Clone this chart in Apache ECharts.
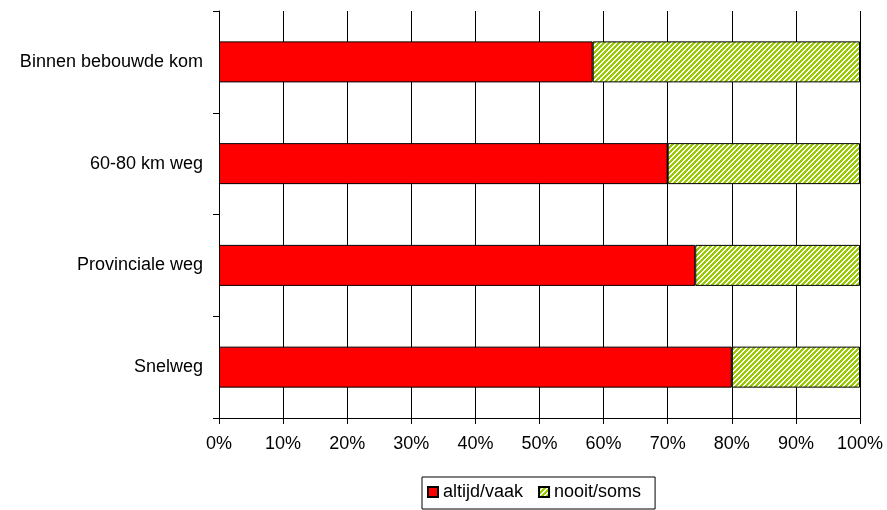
<!DOCTYPE html>
<html>
<head>
<meta charset="utf-8">
<script src="https://cdn.jsdelivr.net/npm/echarts@6/dist/echarts.min.js"></script>
<style>
html,body{margin:0;padding:0;background:#fff;}
#chart{width:887px;height:510px;}
</style>
</head>
<body>
<div id="chart"></div>
<script>
var categories = ['Binnen bebouwde kom', '60-80 km weg', 'Provinciale weg', 'Snelweg'];
var altijdVaak = [58.3, 70.0, 74.3, 80.0];
var nooitSoms = [41.7, 30.0, 25.7, 20.0];
var seriesNames = ['altijd/vaak', 'nooit/soms'];

function makeHatch() {
  var n = 5;
  var c = document.createElement('canvas');
  c.width = n; c.height = n;
  var ctx = c.getContext('2d');
  ctx.fillStyle = '#ffffff';
  ctx.fillRect(0, 0, n, n);
  ctx.fillStyle = '#99CC00';
  for (var x = 0; x < n; x++) {
    for (var y = 0; y < n; y++) {
      if ((x + y) % n < 3) ctx.fillRect(x, y, 1, 1);
    }
  }
  return c;
}

var font = 'Liberation Sans, Arial, sans-serif';
var chart = echarts.init(document.getElementById('chart'), null, {renderer: 'canvas'});
chart.setOption({
  animation: false,
  backgroundColor: '#ffffff',
  textStyle: {fontFamily: font},
  grid: {left: 219, right: 27, top: 11, bottom: 92, containLabel: false},
  legend: {
    left: 422, top: 477,
    data: seriesNames,
    icon: 'rect',
    itemWidth: 10, itemHeight: 10, itemGap: 15,
    borderColor: '#000', borderWidth: 1,
    padding: [6, 14, 8, 5],
    textStyle: {fontSize: 18, color: '#000', fontFamily: font}
  },
  xAxis: {
    type: 'value', min: 0, max: 100, interval: 10,
    axisLine: {show: true, lineStyle: {color: '#000', width: 1}},
    axisTick: {show: true, length: 6, lineStyle: {color: '#000'}},
    axisLabel: {formatter: '{value}%', fontSize: 18, color: '#000', margin: 17, fontFamily: font},
    splitLine: {show: true, lineStyle: {color: '#000', width: 1}}
  },
  yAxis: {
    type: 'category', inverse: true, data: categories,
    axisLine: {show: true, lineStyle: {color: '#000', width: 1}},
    axisTick: {show: true, length: 6, lineStyle: {color: '#000'}},
    axisLabel: {fontSize: 18, color: '#000', margin: 16, fontFamily: font},
    splitLine: {show: false}
  },
  series: [
    {
      name: seriesNames[0], type: 'bar', stack: 'a', barWidth: 41,
      data: altijdVaak,
      itemStyle: {color: '#FF0000', borderColor: '#000', borderWidth: 1}
    },
    {
      name: seriesNames[1], type: 'bar', stack: 'a', barWidth: 41,
      data: nooitSoms,
      itemStyle: {color: {image: makeHatch(), repeat: 'repeat'}, borderColor: '#000', borderWidth: 1}
    }
  ]
});
</script>
</body>
</html>
